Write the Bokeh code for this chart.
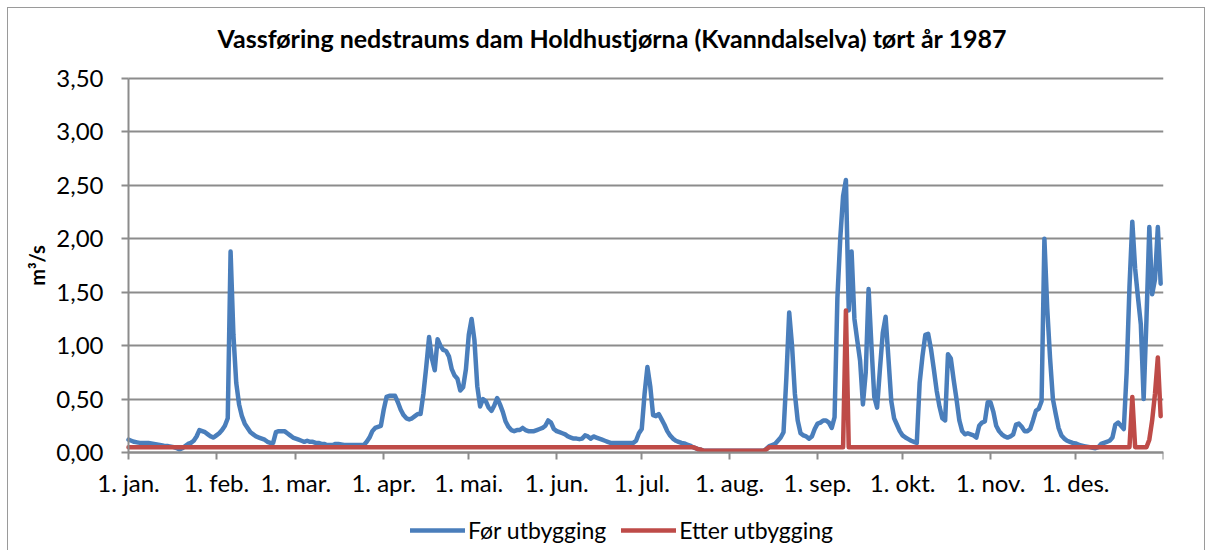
import math
from bokeh.plotting import figure
from bokeh.models import Range1d, FixedTicker, Legend, LegendItem, ColumnDataSource, Label
from bokeh.embed import file_html
from bokeh.resources import INLINE

# ---- data (daily values, m3/s) ----
month_starts = [0, 31, 59, 90, 120, 151, 181, 212, 243, 273, 304, 334, 365]
month_labels = ["1. jan.", "1. feb.", "1. mar.", "1. apr.", "1. mai.", "1. jun.",
                "1. jul.", "1. aug.", "1. sep.", "1. okt.", "1. nov.", "1. des.", ""]
y_ticks = [0.0, 0.5, 1.0, 1.5, 2.0, 2.5, 3.0, 3.5]
y_labels = ["0,00", "0,50", "1,00", "1,50", "2,00", "2,50", "3,00", "3,50"]

for_jan = [0.12, 0.11, 0.10, 0.095, 0.09, 0.09, 0.09, 0.09, 0.085, 0.08, 0.075, 0.07, 0.065,
           0.06, 0.06, 0.055, 0.05, 0.04, 0.03, 0.04, 0.06, 0.08, 0.09, 0.11, 0.15, 0.21,
           0.20, 0.19, 0.17, 0.15, 0.14]
for_feb = [0.16, 0.18, 0.21, 0.25, 0.32, 1.88, 1.10, 0.65, 0.45, 0.34, 0.27, 0.23, 0.19,
           0.17, 0.15, 0.14, 0.13, 0.12, 0.10, 0.09, 0.09, 0.19, 0.20, 0.20, 0.20, 0.18,
           0.16, 0.14]
for_mar = [0.13, 0.12, 0.11, 0.10, 0.11, 0.10, 0.10, 0.09, 0.09, 0.08, 0.08, 0.07, 0.07,
           0.07, 0.08, 0.08, 0.075, 0.07, 0.07, 0.07, 0.07, 0.07, 0.07, 0.07, 0.07, 0.10,
           0.14, 0.20, 0.23, 0.24, 0.25]
for_apr = [0.40, 0.52, 0.53, 0.53, 0.53, 0.47, 0.40, 0.35, 0.32, 0.31, 0.32, 0.34, 0.36,
           0.36, 0.55, 0.80, 1.08, 0.88, 0.77, 1.06, 1.00, 0.96, 0.95, 0.90, 0.78, 0.72,
           0.69, 0.58, 0.61, 0.78]
for_may = [1.10, 1.25, 1.05, 0.62, 0.43, 0.50, 0.48, 0.42, 0.39, 0.44, 0.51, 0.45, 0.38,
           0.29, 0.24, 0.21, 0.20, 0.21, 0.21, 0.23, 0.21, 0.20, 0.20, 0.20, 0.21, 0.22,
           0.23, 0.25, 0.30, 0.28, 0.22]
for_jun = [0.20, 0.19, 0.18, 0.17, 0.15, 0.14, 0.13, 0.13, 0.125, 0.13, 0.16, 0.15, 0.13,
           0.15, 0.14, 0.13, 0.12, 0.11, 0.10, 0.09, 0.09, 0.09, 0.09, 0.09, 0.09, 0.09,
           0.09, 0.09, 0.11, 0.18]
for_jul = [0.22, 0.55, 0.80, 0.62, 0.35, 0.34, 0.36, 0.31, 0.26, 0.20, 0.16, 0.13, 0.11,
           0.10, 0.09, 0.085, 0.075, 0.065, 0.05, 0.04, 0.03, 0.025, 0.016, 0.016, 0.016,
           0.016, 0.016, 0.016, 0.016, 0.016, 0.016]
for_aug = [0.016, 0.016, 0.016, 0.016, 0.016, 0.016, 0.016, 0.016, 0.016, 0.016, 0.016,
           0.016, 0.016, 0.035, 0.06, 0.07, 0.08, 0.11, 0.14, 0.19, 0.70, 1.31, 1.00, 0.55,
           0.30, 0.18, 0.16, 0.15, 0.13, 0.15, 0.22]
for_sep = [0.27, 0.28, 0.30, 0.30, 0.28, 0.23, 0.33, 1.45, 2.00, 2.40, 2.55, 1.33, 1.88,
           1.25, 1.05, 0.86, 0.45, 0.75, 1.53, 1.00, 0.52, 0.42, 0.78, 1.12, 1.27, 0.88,
           0.48, 0.32, 0.26, 0.20]
for_oct = [0.16, 0.14, 0.125, 0.11, 0.10, 0.09, 0.65, 0.90, 1.10, 1.11, 0.97, 0.78, 0.58,
           0.43, 0.32, 0.30, 0.92, 0.88, 0.68, 0.50, 0.30, 0.20, 0.17, 0.18, 0.17, 0.16,
           0.14, 0.25, 0.28, 0.29, 0.47]
for_nov = [0.47, 0.38, 0.25, 0.20, 0.17, 0.15, 0.14, 0.15, 0.17, 0.26, 0.27, 0.24, 0.20,
           0.20, 0.22, 0.30, 0.39, 0.41, 0.48, 2.00, 1.35, 0.88, 0.50, 0.36, 0.23, 0.16,
           0.13, 0.11, 0.10, 0.09]
for_dec = [0.085, 0.075, 0.065, 0.06, 0.055, 0.05, 0.045, 0.04, 0.05, 0.08, 0.09, 0.10,
           0.11, 0.14, 0.26, 0.28, 0.25, 0.22, 0.75, 1.55, 2.16, 1.72, 1.45, 1.20, 0.50,
           1.25, 2.11, 1.48, 1.62, 2.11, 1.58]

etter_jan = [0.05] * 31
etter_feb = [0.05] * 28
etter_mar = [0.05] * 31
etter_apr = [0.05] * 30
etter_may = [0.05] * 31
etter_jun = [0.05] * 30
etter_jul = [0.05] * 19 + [0.04, 0.03, 0.025] + [0.016] * 9
etter_aug = [0.016] * 13 + [0.03] + [0.05] * 17
etter_sep = [0.05] * 10 + [1.33] + [0.05] * 19
etter_oct = [0.05] * 31
etter_nov = [0.05] * 30
etter_dec = [0.05] * 20 + [0.52] + [0.05] * 5 + [0.12, 0.30, 0.55, 0.89, 0.34]

for_values = (for_jan + for_feb + for_mar + for_apr + for_may + for_jun + for_jul +
              for_aug + for_sep + for_oct + for_nov + for_dec)
etter_values = (etter_jan + etter_feb + etter_mar + etter_apr + etter_may + etter_jun +
                etter_jul + etter_aug + etter_sep + etter_oct + etter_nov + etter_dec)
days = list(range(len(for_values)))

# ---- styling / layout (pixel geometry inside the figure) ----
FONT = "Lato"
GRAY = "#8c8c8c"
BLUE = "#4a7ebb"
RED = "#be4b48"

FIG_W, FIG_H = 1198, 543
FRAME_LEFT = 2
FRAME_RIGHT = 1155
FRAME_TOP = 50
FRAME_BOTTOM = 541
AXIS_X = 120            # where day 0 (the value axis) sits
GRID_TOP = 70           # where the top grid value sits
ZERO_Y = 444            # where value 0 (the date axis) sits
X_END, Y_TOP = 365, 3.5
px_day = (FRAME_RIGHT - AXIS_X) / X_END
px_unit = (ZERO_Y - GRID_TOP) / Y_TOP
x_start = -(AXIS_X - FRAME_LEFT) / px_day
y_start = -(FRAME_BOTTOM - ZERO_Y) / px_unit
y_end = Y_TOP + (GRID_TOP - FRAME_TOP) / px_unit

src = ColumnDataSource(dict(day=days, before=for_values, after=etter_values))

p = figure(width=FIG_W, height=FIG_H, output_backend="svg", toolbar_location=None,
           x_range=Range1d(x_start, X_END), y_range=Range1d(y_start, y_end),
           min_border_left=FRAME_LEFT, min_border_right=FIG_W - FRAME_RIGHT,
           min_border_top=FRAME_TOP, min_border_bottom=FIG_H - FRAME_BOTTOM,
           styles={"margin-left": "7px", "margin-top": "7px",
                   "border-left": "1px solid #9a9a9a", "border-top": "1px solid #9a9a9a",
                   "border-right": "1px solid #9a9a9a"})
p.outline_line_color = None
p.background_fill_color = "white"
p.border_fill_color = "white"

# grid lines only across the data area
grid = p.ygrid[0]
grid.ticker = FixedTicker(ticks=y_ticks)
grid.grid_line_color = GRAY
grid.grid_line_width = 2
if "cross_bounds" in grid.properties():
    grid.cross_bounds = (0, X_END)
else:
    grid.visible = False
    p.segment(x0=[0] * len(y_ticks), x1=[X_END] * len(y_ticks), y0=y_ticks, y1=y_ticks,
              line_color=GRAY, line_width=2)
p.xgrid.visible = False

r_before = p.line("day", "before", source=src, line_color=BLUE, line_width=4.5,
                  line_join="round", line_cap="round")
r_after = p.line("day", "after", source=src, line_color=RED, line_width=4.5,
                 line_join="round", line_cap="round")

# axes, drawn at value 0 / day 0
p.xaxis.fixed_location = 0
p.xaxis.bounds = (0, X_END)
p.xaxis.ticker = FixedTicker(ticks=month_starts)
p.xaxis.major_label_overrides = {k: v for k, v in zip(month_starts, month_labels)}
p.yaxis.fixed_location = 0
p.yaxis.bounds = (0, Y_TOP)
p.yaxis.ticker = FixedTicker(ticks=y_ticks)
p.yaxis.major_label_overrides = {k: v for k, v in zip(y_ticks, y_labels)}
for ax in (p.xaxis, p.yaxis):
    ax.axis_line_color = GRAY
    ax.axis_line_width = 2
    ax.major_tick_line_color = GRAY
    ax.major_tick_line_width = 2
    ax.major_tick_in = 0
    ax.major_tick_out = 7
    ax.minor_tick_line_color = None
    ax.major_label_text_font = FONT
    ax.major_label_text_font_size = "24px"
    ax.major_label_text_color = "black"
p.xaxis.major_label_standoff = 8
p.yaxis.major_label_standoff = 18

# value-axis title
p.add_layout(Label(x=28 - FRAME_LEFT, y=Y_TOP / 2, x_units="screen", y_units="data",
                   text="m³/s", angle=math.pi / 2, text_font=FONT,
                   text_font_style="bold", text_font_size="20px", text_color="black",
                   text_align="center", text_baseline="middle"))

# chart title
p.title.text = "Vassføring nedstraums dam Holdhustjørna (Kvanndalselva) tørt år 1987"
p.title.align = "left"
p.title.offset = 209 - FRAME_LEFT
p.title.standoff = 12
p.title.text_font = FONT
p.title.text_font_style = "bold"
p.title.text_font_size = "25px"
p.title.text_color = "black"

legend = Legend(items=[LegendItem(label="Før utbygging", renderers=[r_before]),
                       LegendItem(label="Etter utbygging", renderers=[r_after])],
                orientation="horizontal", location=(402 - FRAME_LEFT, 5),
                glyph_width=55, glyph_height=20, label_standoff=3, spacing=15,
                padding=0, margin=0, border_line_color=None,
                background_fill_alpha=0,
                label_text_font=FONT, label_text_font_size="23px",
                label_text_color="black")
p.add_layout(legend, "center")

open("out.html", "w").write(file_html(p, INLINE))
